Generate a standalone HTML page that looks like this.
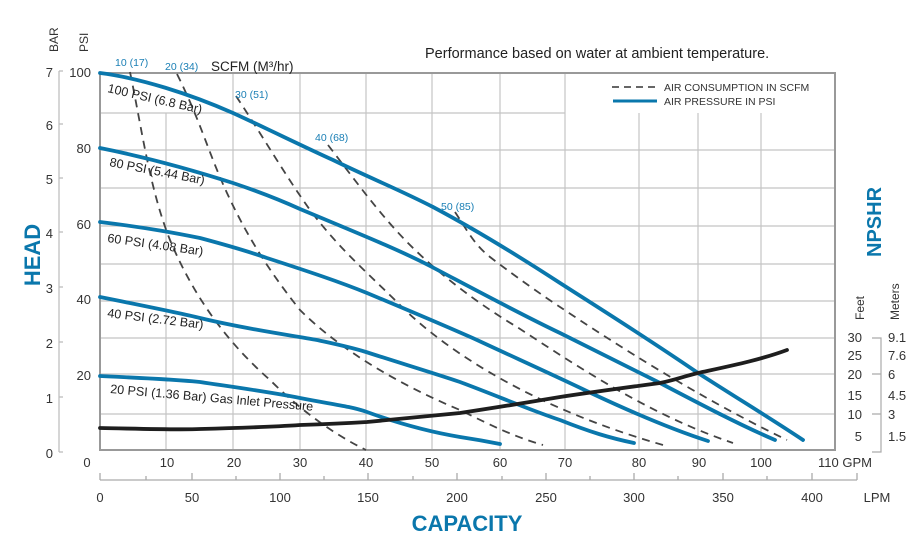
<!DOCTYPE html>
<html><head><meta charset="utf-8"><style>
body{margin:0;background:#fff;}
svg{display:block;font-family:"Liberation Sans",Arial,sans-serif;}
</style></head><body>
<svg width="920" height="550" viewBox="0 0 920 550" xmlns="http://www.w3.org/2000/svg">
<rect width="920" height="550" fill="#fff"/>
<g stroke="#c4c4c4" stroke-width="1.2" fill="none">
<path d="M166 113V450M233 73V450M300 73V450M366 73V450M432 73V450M500 73V450M565 73V450M639 113V450M698 113V450M761 113V450"/>
<path d="M100 113H565M100 150H835M100 188H835M100 226H835M100 264H835M100 301H835M100 338H835M100 374H835M100 414H835"/>
</g>
<rect x="100" y="73" width="735" height="377" fill="none" stroke="#999" stroke-width="2"/>
<path d="M612 87H657" stroke="#333" stroke-width="1.6" stroke-dasharray="7,5"/>
<path d="M613 101H657" stroke="#0a77ac" stroke-width="3"/>
<text x="664" y="91" font-size="10.5" fill="#333">AIR CONSUMPTION IN SCFM</text>
<text x="664" y="105" font-size="10.5" fill="#333">AIR PRESSURE IN PSI</text>
<text x="425" y="58" font-size="14.5" fill="#222">Performance based on water at ambient temperature.</text>
<g stroke="#444" stroke-width="1.8" fill="none" stroke-dasharray="8,6">
<path d="M130 72 C142 130 150 190 170 240 C195 300 230 345 270 380 C300 410 335 435 366 450"/>
<path d="M177 74 C195 110 205 140 215 165 C235 215 260 260 300 310 C340 350 400 385 460 410 C490 425 515 437 543 445"/>
<path d="M236 96 C262 135 285 175 310 210 C340 250 370 275 400 305 C450 355 540 410 663 445"/>
<path d="M328 145 C355 180 380 215 410 245 C440 275 480 305 517 327 C580 368 650 415 733 443"/>
<path d="M455 212 C470 235 475 245 490 257 C520 280 545 297 560 307 C620 347 700 398 787 440"/>
</g>
<g stroke="#0a77ac" stroke-width="3.8" fill="none" stroke-linecap="round">
<path d="M100 73 C140 78 190 94 233 113 C270 130 300 145 333 160 C370 178 400 190 433 207 C480 232 520 257 560 283 C610 315 650 340 698 373 C740 400 770 418 803 440"/>
<path d="M100 148 C140 156 180 166 233 183 C260 192 280 200 300 209 C350 230 400 250 432 267 C470 287 520 314 560 333 C600 353 630 368 660 383 C700 404 740 425 775 440"/>
<path d="M100 222 C150 228 180 234 200 238 C230 246 250 252 267 258 C310 272 340 282 367 293 C410 311 450 328 477 340 C520 360 560 378 593 394 C640 416 680 432 708 441"/>
<path d="M100 297 C150 307 180 313 200 318 C250 330 290 335 317 340 C340 345 350 347 366 352 C400 363 430 372 460 382 C500 397 530 410 560 420 C590 432 610 438 634 443"/>
<path d="M100 376 C140 378 170 379 200 382 C240 388 270 392 300 398 C330 404 350 406 367 412 C400 424 430 432 460 437 C480 440 490 442 500 444"/>
</g>
<path d="M100 428 C150 429 180 430 200 429 C240 428 270 427 300 425 C330 424 350 423 367 422 C400 419 430 416 460 413 C500 407 530 402 560 397 C600 391 630 387 660 383 C675 380 685 376 698 373 C730 366 760 360 787 350" stroke="#1e1e1e" stroke-width="3.8" fill="none" stroke-linecap="round"/>
<g font-size="12.5" fill="#222">
<text transform="translate(107,92) rotate(13)">100 PSI (6.8 Bar)</text>
<text transform="translate(109,166) rotate(11)">80 PSI (5.44 Bar)</text>
<text transform="translate(107,242) rotate(8)">60 PSI (4.08 Bar)</text>
<text transform="translate(107,317) rotate(7)">40 PSI (2.72 Bar)</text>
<text transform="translate(110,393) rotate(5)">20 PSI (1.36 Bar) Gas Inlet Pressure</text>
</g>
<g font-size="10.5" fill="#1a7fb5">
<text x="115" y="66">10 (17)</text>
<text x="165" y="70">20 (34)</text>
<text x="235" y="98">30 (51)</text>
<text x="315" y="141">40 (68)</text>
<text x="441" y="210">50 (85)</text>
</g>
<text x="211" y="71" font-size="13.5" fill="#222">SCFM (M³/hr)</text>
<path d="M59 71V452M59 71h4M59 124h4M59 178h4M59 232h4M59 287h4M59 342h4M59 397h4M59 452h4" stroke="#bbb" stroke-width="1.2" fill="none"/>
<g font-size="13" fill="#333" text-anchor="end">
<text x="53" y="77">7</text><text x="53" y="130">6</text><text x="53" y="184">5</text><text x="53" y="238">4</text><text x="53" y="293">3</text><text x="53" y="348">2</text><text x="53" y="403">1</text><text x="53" y="458">0</text>
<text x="91" y="77">100</text><text x="91" y="153">80</text><text x="91" y="229">60</text><text x="91" y="304">40</text><text x="91" y="380">20</text>
</g>
<text transform="translate(58,52) rotate(-90)" font-size="12" fill="#333">BAR</text>
<text transform="translate(88,52) rotate(-90)" font-size="12" fill="#333">PSI</text>
<text transform="translate(40,255) rotate(-90)" font-size="22" font-weight="bold" fill="#0a77ac" text-anchor="middle">HEAD</text>
<g font-size="13" fill="#333" text-anchor="middle">
<text x="87" y="467">0</text><text x="167" y="467">10</text><text x="234" y="467">20</text><text x="300" y="467">30</text><text x="366" y="467">40</text><text x="432" y="467">50</text><text x="500" y="467">60</text><text x="565" y="467">70</text><text x="639" y="467">80</text><text x="699" y="467">90</text><text x="761" y="467">100</text>
<text x="845" y="467">110 GPM</text>
</g>
<path d="M100 480H857M100 480v-7M146 480v-4M192 480v-7M236 480v-4M280 480v-7M324 480v-4M368 480v-7M413 480v-4M457 480v-7M502 480v-4M546 480v-7M590 480v-4M634 480v-7M678 480v-4M723 480v-7M767 480v-4M812 480v-7M857 480v-7" stroke="#aaa" stroke-width="1.3" fill="none"/>
<g font-size="13" fill="#333" text-anchor="middle">
<text x="100" y="502">0</text><text x="192" y="502">50</text><text x="280" y="502">100</text><text x="368" y="502">150</text><text x="457" y="502">200</text><text x="546" y="502">250</text><text x="634" y="502">300</text><text x="723" y="502">350</text><text x="812" y="502">400</text><text x="877" y="502">LPM</text>
</g>
<text x="467" y="531" font-size="22" font-weight="bold" fill="#0a77ac" text-anchor="middle">CAPACITY</text>
<text transform="translate(881,222) rotate(-90)" font-size="20" font-weight="bold" fill="#0a77ac" text-anchor="middle">NPSHR</text>
<text transform="translate(864,320) rotate(-90)" font-size="12" fill="#333">Feet</text>
<text transform="translate(899,320) rotate(-90)" font-size="12" fill="#333">Meters</text>
<path d="M872 338h9V452h-9M872 374h9M872 414h9" stroke="#aaa" stroke-width="1.2" fill="none"/>
<g font-size="13" fill="#333" text-anchor="end">
<text x="862" y="342">30</text><text x="862" y="360">25</text><text x="862" y="379">20</text><text x="862" y="400">15</text><text x="862" y="419">10</text><text x="862" y="441">5</text>
</g>
<g font-size="13" fill="#333">
<text x="888" y="342">9.1</text><text x="888" y="360">7.6</text><text x="888" y="379">6</text><text x="888" y="400">4.5</text><text x="888" y="419">3</text><text x="888" y="441">1.5</text>
</g>
</svg>
</body></html>
